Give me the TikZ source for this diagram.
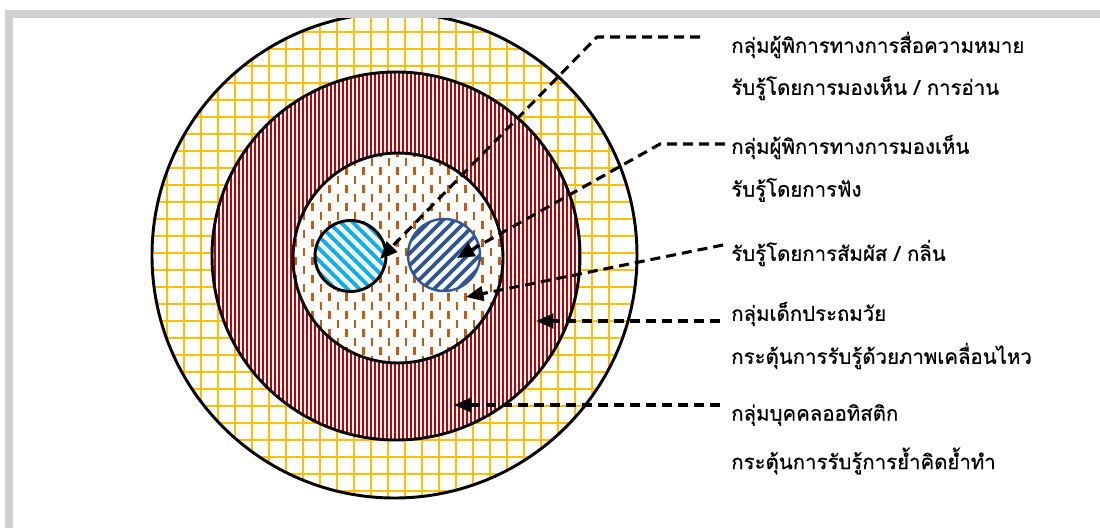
\documentclass[tikz,border=0pt]{standalone}
\usepackage{fontspec}
\newfontfamily\thaifont[Script=Thai,FakeBold=0.6]{Loma}
\usetikzlibrary{arrows.meta}
\definecolor{gridy}{HTML}{FFC000}
\definecolor{ringred}{HTML}{C00000}
\definecolor{dashor}{HTML}{C55A11}
\definecolor{lblue}{HTML}{00B0F0}
\definecolor{dblue}{HTML}{2F5597}
\definecolor{framegray}{HTML}{D0D0D0}
\tikzset{
  rim/.style={draw=black, line width=2.2pt},
  conn/.style={draw=black, line width=2.3pt, dash pattern=on 7.5pt off 4.5pt, -{Triangle[length=13pt,width=11pt]}},
  lbl/.style={anchor=west, inner sep=0pt, font=\thaifont\fontsize{15.3}{18}\selectfont},
}
\begin{document}
\begin{tikzpicture}[x=0.75pt,y=-0.75pt]
\useasboundingbox (0,0) rectangle (1100,528);
\fill[white] (0,0) rectangle (1100,528);
% outer grid circle
\fill[white] (394.5,255.5) circle[radius=242.5];
\begin{scope}
  \clip (394.5,255.5) circle[radius=242.5];
  \foreach \i in {-16,...,16} {
    \draw[gridy, line width=1.5pt] ({337.3+17*\i},0) -- ++(0,528);
  }
  \foreach \i in {-2,...,30} {
    \draw[gridy, line width=1.5pt] (100,{32.3+17*\i}) -- ++(700,0);
  }
\end{scope}
\draw[rim] (394.5,255.5) circle[radius=242.5];
% red ring
\fill[white] (396,256) circle[radius=184];
\begin{scope}
  \clip (396,256) circle[radius=184];
  \foreach \i in {0,...,95} {
    \draw[ringred, line width=1.55pt] ({211+4*\i},60) -- ++(0,400);
  }
\end{scope}
\draw[rim] (396,256) circle[radius=184];
% inner dashed circle
\fill[white] (398,258) circle[radius=105];
\begin{scope}
  \clip (398,258) circle[radius=105];
  \foreach \i in {0,...,14} {
    \foreach \j in {0,...,13} {
      \draw[dashor, line width=1.9pt] ({278.3+17*\i},{149+18*\j}) -- ++(0,8);
      \draw[dashor, line width=1.9pt] ({286.8+17*\i},{158+18*\j}) -- ++(0,8);
    }
  }
\end{scope}
\draw[rim] (398,258) circle[radius=105];
% light blue circle
\fill[white] (350.5,256) circle[radius=35.5];
\begin{scope}
  \clip (350.5,256) circle[radius=35.5];
  \foreach \k in {-12,...,12} {
    \draw[lblue, line width=2.8pt] ({350.5-60+12*\k},196) -- ++(120,120);
  }
\end{scope}
\draw[rim] (350.5,256) circle[radius=35.5];
% dark blue circle
\fill[white] (444,255) circle[radius=36];
\begin{scope}
  \clip (444,255) circle[radius=36];
  \foreach \k in {-12,...,12} {
    \draw[dblue, line width=2.8pt] ({444-60+12*\k},315) -- ++(120,-120);
  }
\end{scope}
\draw[dblue, line width=1.8pt] (444,255) circle[radius=36];
% labels
\node[lbl] (t1) at (731,45) {กลุ่มผู้พิการทางการสื่อความหมาย};
\node[lbl] (t2) at (731,88) {รับรู้โดยการมองเห็น / การอ่าน};
\node[lbl] (t3) at (731,147) {กลุ่มผู้พิการทางการมองเห็น};
\node[lbl] (t4) at (731,190) {รับรู้โดยการฟัง};
\node[lbl] (t5) at (731,253) {รับรู้โดยการสัมผัส / กลิ่น};
\node[lbl] (t6) at (731,314) {กลุ่มเด็กประถมวัย};
\node[lbl] (t7) at (731,356) {กระตุ้นการรับรู้ด้วยภาพเคลื่อนไหว};
\node[lbl] (t8) at (731,415) {กลุ่มบุคคลออทิสติก};
\node[lbl] (t9) at (731,461) {กระตุ้นการรับรู้การย้ำคิดย้ำทำ};
% connector points
\coordinate (s1) at (700,37);
\coordinate (b1) at (597,37);
\coordinate (e1) at (380,259);
\coordinate (s2) at (725,144);
\coordinate (b2) at (660,144);
\coordinate (e2) at (457,258);
\coordinate (s3) at (723,245);
\coordinate (e3) at (466,297);
\coordinate (s4) at (720,321);
\coordinate (e4) at (536,321);
\coordinate (s5) at (720,405);
\coordinate (e5) at (454,405);
\draw[conn] (s1) -- (b1) -- (e1);
\draw[conn] (s2) -- (b2) -- (e2);
\draw[conn] (s3) -- (e3);
\draw[conn] (s4) -- (e4);
\draw[conn] (s5) -- (e5);
% frame
\draw[framegray, line width=6pt] (9,14) rectangle (1130,560);
\end{tikzpicture}
\end{document}
